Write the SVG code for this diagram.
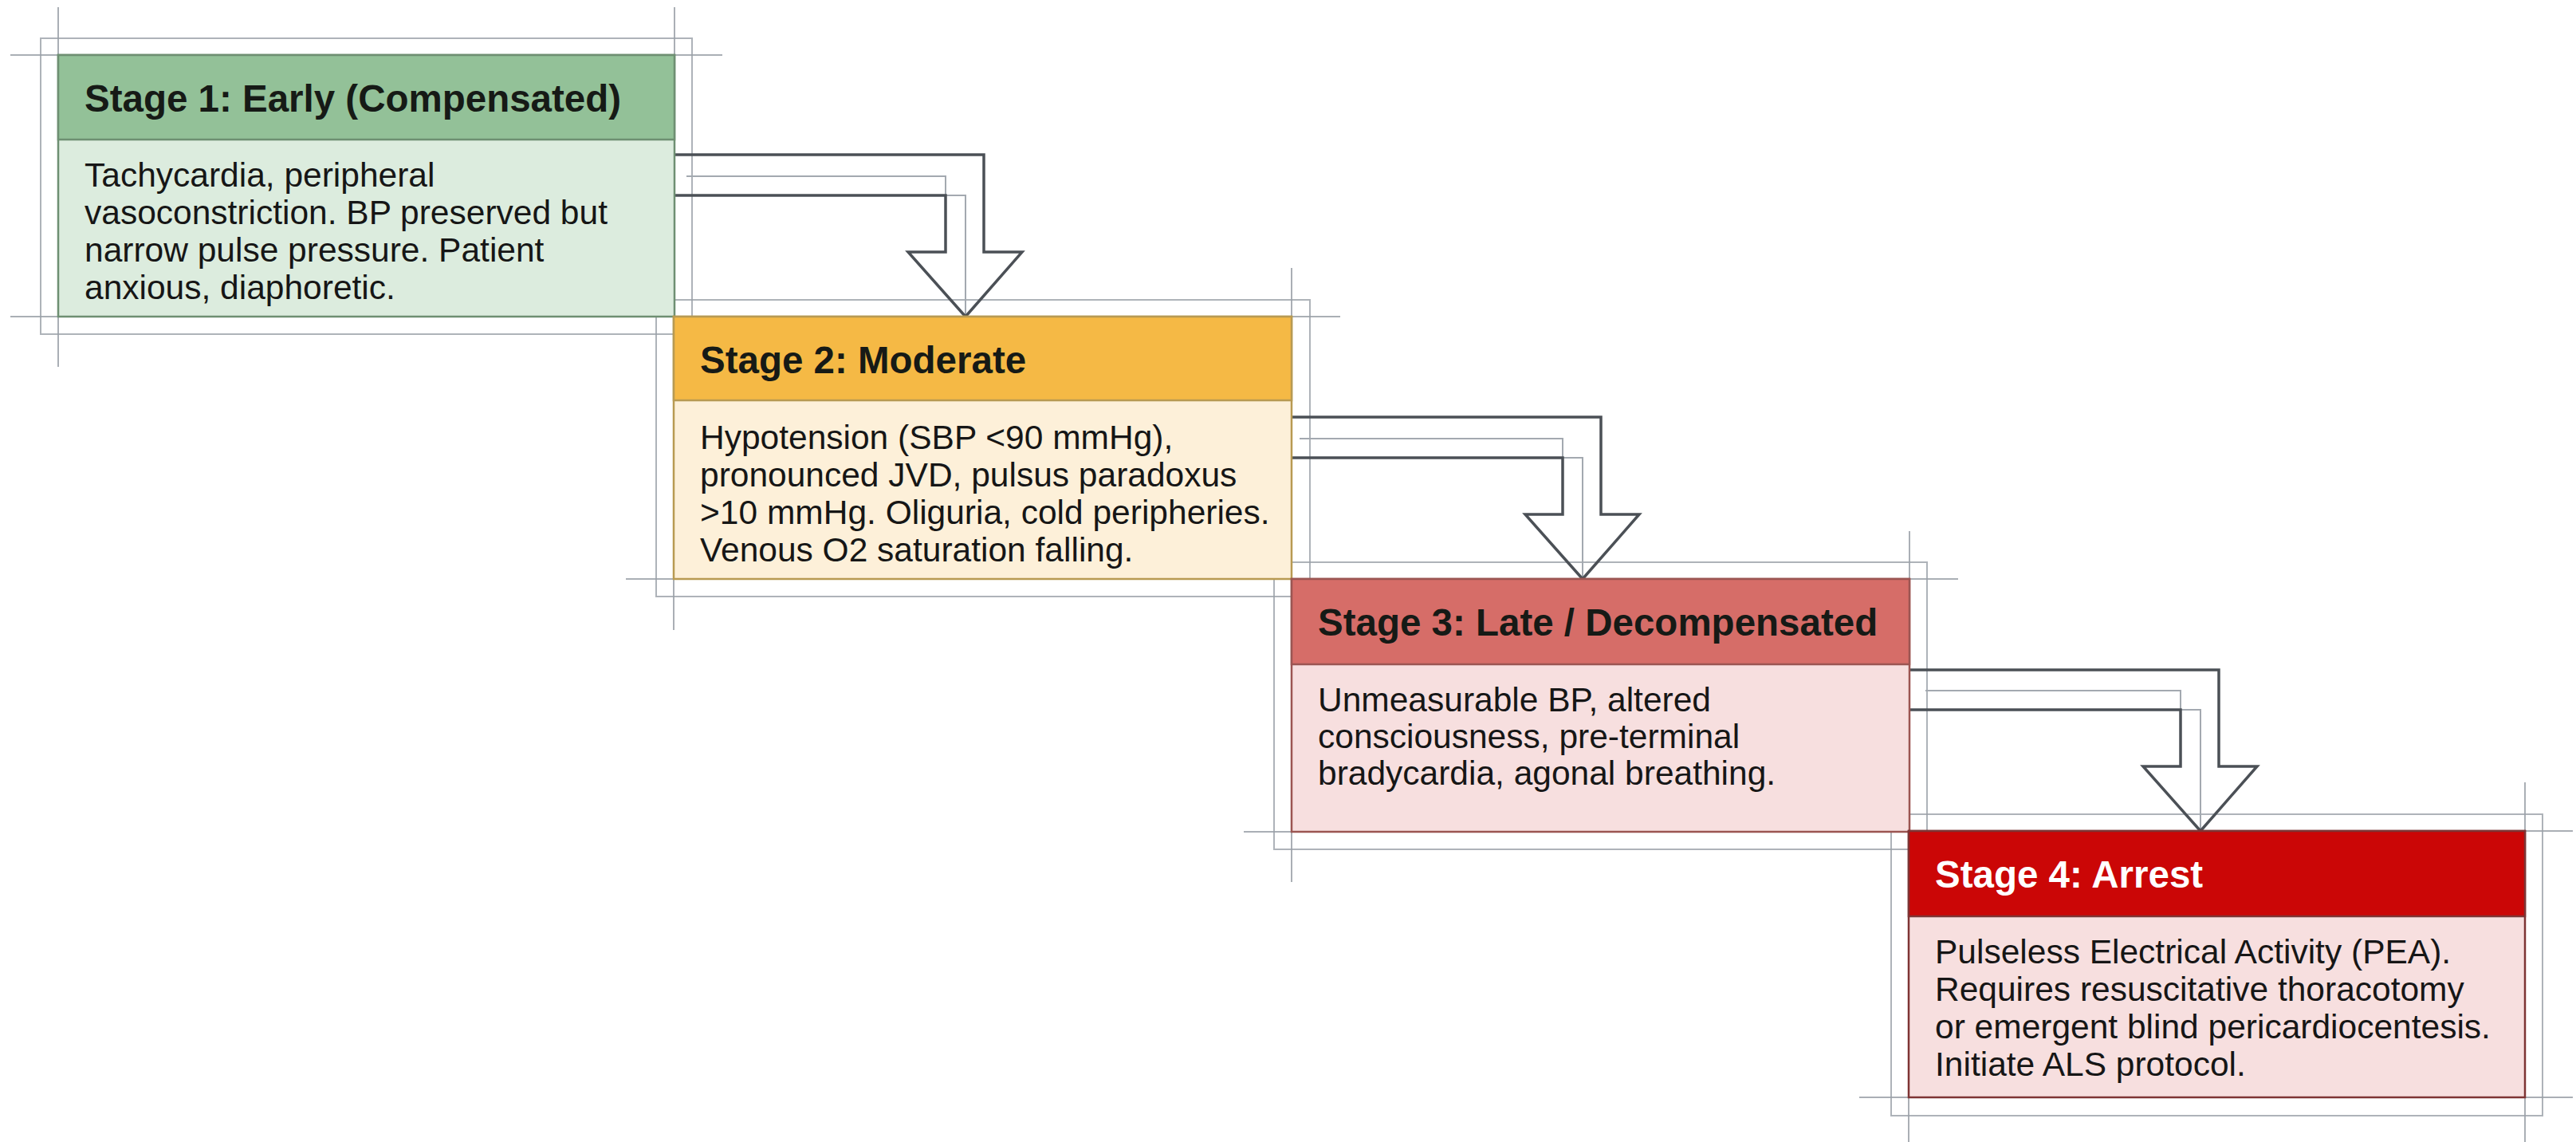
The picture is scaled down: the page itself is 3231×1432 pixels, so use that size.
<svg xmlns="http://www.w3.org/2000/svg" width="3231" height="1432" viewBox="0 0 3231 1432">
<style>
.bg{fill:#ffffff}
.guide{stroke:#8e949c;stroke-width:2;fill:none;opacity:0.75}
.outer{stroke:#9aa0a8;stroke-width:2;fill:none;opacity:0.8}
.arrow{fill:none;stroke:#4b5056;stroke-width:3.5;stroke-linejoin:miter}
.aguide{fill:none;stroke:#a3a9b0;stroke-width:2}
.hd{font-family:"Liberation Sans",Arial,sans-serif;font-weight:bold;font-size:47.5px;fill:#161a16}
.bd{font-family:"Liberation Sans",Arial,sans-serif;font-size:42.5px;fill:#161616}
.hdw{fill:#ffffff}
</style>
<rect class="bg" x="0" y="0" width="3231" height="1432"/>

<g id="guides">
  <!-- box 1 -->
  <path class="guide" d="M13,69 H906 M13,397 H906 M73,9 V460 M846,9 V460"/>
  <rect class="outer" x="51" y="48" width="817" height="371"/>
  <!-- box 2 -->
  <path class="guide" d="M785,397 H1681 M785,726 H1681 M845,336 V790 M1620,336 V790"/>
  <rect class="outer" x="823" y="376" width="820" height="372"/>
  <!-- box 3 -->
  <path class="guide" d="M1560,726 H2456 M1560,1043 H2456 M1620,666 V1106 M2395,666 V1106"/>
  <rect class="outer" x="1598" y="705" width="819" height="360"/>
  <!-- box 4 -->
  <path class="guide" d="M2332,1042 H3227 M2332,1376 H3227 M2394,981 V1432 M3167,981 V1432"/>
  <rect class="outer" x="2372" y="1021" width="817" height="378"/>
</g>

<g id="connectors">
  <path class="aguide" d="M861,221 H1186 V245 H1211 V397"/>
  <path class="arrow" d="M846,194 H1234 V316 H1282 L1211,397 L1139,316 H1186 V245 H846"/>
  <path class="aguide" d="M1630,550 H1960 V574 H1985 V726"/>
  <path class="arrow" d="M1620,523 H2008 V645 H2056 L1985,726 L1913,645 H1960 V574 H1620"/>
  <path class="aguide" d="M2415,866 H2735 V890 H2760 V1042"/>
  <path class="arrow" d="M2395,840 H2783 V961 H2831 L2760,1042 L2688,961 H2735 V890 H2395"/>
</g>

<g id="stage1">
  <rect x="73" y="69" width="773" height="328" fill="#dcecde" stroke="#6e8f72" stroke-width="2.5"/>
  <rect x="73" y="69" width="773" height="106" fill="#93c198" stroke="#6e8f72" stroke-width="2.5"/>
  <text class="hd" x="106" y="140">Stage 1: Early (Compensated)</text>
  <text class="bd" x="106" y="234">Tachycardia, peripheral</text>
  <text class="bd" x="106" y="281">vasoconstriction. BP preserved but</text>
  <text class="bd" x="106" y="328">narrow pulse pressure. Patient</text>
  <text class="bd" x="106" y="375">anxious, diaphoretic.</text>
</g>

<g id="stage2">
  <rect x="845" y="397" width="775" height="329" fill="#fdf0d9" stroke="#b89a52" stroke-width="2.5"/>
  <rect x="845" y="397" width="775" height="105" fill="#f5b945" stroke="#b89a52" stroke-width="2.5"/>
  <text class="hd" x="878" y="468">Stage 2: Moderate</text>
  <text class="bd" x="878" y="563">Hypotension (SBP &lt;90 mmHg),</text>
  <text class="bd" x="878" y="610">pronounced JVD, pulsus paradoxus</text>
  <text class="bd" x="878" y="657">&gt;10 mmHg. Oliguria, cold peripheries.</text>
  <text class="bd" x="878" y="704">Venous O2 saturation falling.</text>
</g>

<g id="stage3">
  <rect x="1620" y="726" width="775" height="317" fill="#f7dfdf" stroke="#9b5552" stroke-width="2.5"/>
  <rect x="1620" y="726" width="775" height="107" fill="#d66d68" stroke="#9b5552" stroke-width="2.5"/>
  <text class="hd" x="1653" y="797">Stage 3: Late / Decompensated</text>
  <text class="bd" x="1653" y="892">Unmeasurable BP, altered</text>
  <text class="bd" x="1653" y="938">consciousness, pre-terminal</text>
  <text class="bd" x="1653" y="984">bradycardia, agonal breathing.</text>
</g>

<g id="stage4">
  <rect x="2394" y="1042" width="773" height="334" fill="#f7dfdf" stroke="#7e3434" stroke-width="2.5"/>
  <rect x="2394" y="1042" width="773" height="107" fill="#cb0606" stroke="#7e3434" stroke-width="2.5"/>
  <text class="hd hdw" x="2427" y="1113">Stage 4: Arrest</text>
  <text class="bd" x="2427" y="1208">Pulseless Electrical Activity (PEA).</text>
  <text class="bd" x="2427" y="1255">Requires resuscitative thoracotomy</text>
  <text class="bd" x="2427" y="1302">or emergent blind pericardiocentesis.</text>
  <text class="bd" x="2427" y="1349">Initiate ALS protocol.</text>
</g>
</svg>
